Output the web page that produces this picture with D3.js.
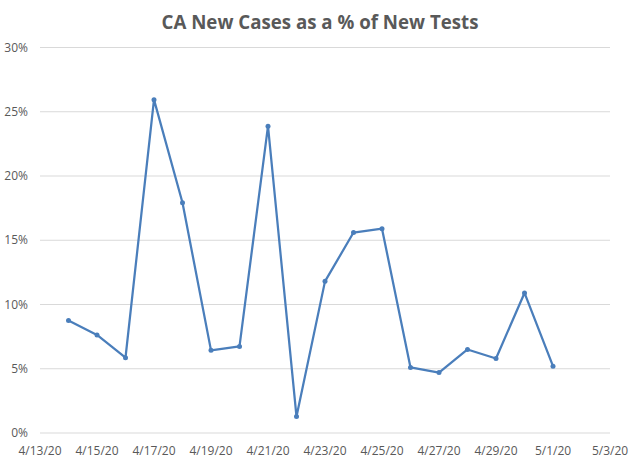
<!DOCTYPE html>
<html>
<head>
<meta charset="utf-8">
<script src="https://cdn.jsdelivr.net/npm/d3@7"></script>
<style>
  body { margin: 0; background: #fff; }
  text { font-family: "Open Sans", "Noto Sans", sans-serif; fill: #595959; }
</style>
</head>
<body>
<script>
  const title = 'CA New Cases as a % of New Tests';

  const dates = ['4/14/20', '4/15/20', '4/16/20', '4/17/20', '4/18/20', '4/19/20',
    '4/20/20', '4/21/20', '4/22/20', '4/23/20', '4/24/20', '4/25/20', '4/26/20',
    '4/27/20', '4/28/20', '4/29/20', '4/30/20', '5/1/20'];

  const pct = [0.0875, 0.0763, 0.0586, 0.2594, 0.1792, 0.0643,
    0.0674, 0.2388, 0.0128, 0.118, 0.156, 0.159, 0.051,
    0.047, 0.065, 0.058, 0.109, 0.052];

  const xTicks = ['4/13/20', '4/15/20', '4/17/20', '4/19/20', '4/21/20', '4/23/20',
    '4/25/20', '4/27/20', '4/29/20', '5/1/20', '5/3/20'];
  const yTicks = [0, 0.05, 0.10, 0.15, 0.20, 0.25, 0.30];

  const width = 640;
  const height = 464;
  const parse = d3.timeParse('%m/%d/%y');

  const svg = d3.select('body')
          .append('svg')
          .attr('width', width)
          .attr('height', height);

  // 4/13 .. 5/3 across the plot, 0..30% down to up
  const x = d3.scaleTime()
          .domain([parse('4/13/20'), parse('5/3/20')])
          .range([40, 610]);

  const y = d3.scaleLinear()
          .domain([0, 0.30])
          .range([433, 47.5]);

  // gridlines
  svg.append('g')
          .selectAll('line')
          .data(yTicks)
          .enter()
          .append('line')
          .attr('x1', 40)
          .attr('x2', 610)
          .attr('y1', d => y(d))
          .attr('y2', d => y(d))
          .attr('stroke', '#d9d9d9')
          .attr('stroke-width', 1);

  // y labels
  svg.append('g')
          .selectAll('text')
          .data(yTicks)
          .enter()
          .append('text')
          .attr('x', 28)
          .attr('y', d => y(d))
          .attr('dy', '0.35em')
          .attr('text-anchor', 'end')
          .style('font-size', '12px')
          .text(d3.format('.0%'));

  // x labels
  svg.append('g')
          .selectAll('text')
          .data(xTicks)
          .enter()
          .append('text')
          .attr('x', d => x(parse(d)))
          .attr('y', 455)
          .attr('text-anchor', 'middle')
          .style('font-size', '12px')
          .text(d => d);

  const points = dates.map((d, i) => ({ date: parse(d), value: pct[i] }));

  const line = d3.line()
          .x(d => x(d.date))
          .y(d => y(d.value));

  svg.append('path')
          .datum(points)
          .attr('fill', 'none')
          .attr('stroke', '#4A7EBB')
          .attr('stroke-width', 2.25)
          .attr('stroke-linejoin', 'round')
          .attr('d', line);

  svg.append('g')
          .selectAll('circle')
          .data(points)
          .enter()
          .append('circle')
          .attr('cx', d => x(d.date))
          .attr('cy', d => y(d.value))
          .attr('r', 2.5)
          .attr('fill', '#4A7EBB');

  // title, sized to the width seen in the reference
  const t = svg.append('text')
          .attr('x', 320)
          .attr('y', 29)
          .attr('text-anchor', 'middle')
          .style('font-size', '20px')
          .style('font-weight', 'bold')
          .text(title);
  const w = t.node().getComputedTextLength();
  t.style('font-size', (20 * 317 / w).toFixed(2) + 'px');
</script>
</body>
</html>
